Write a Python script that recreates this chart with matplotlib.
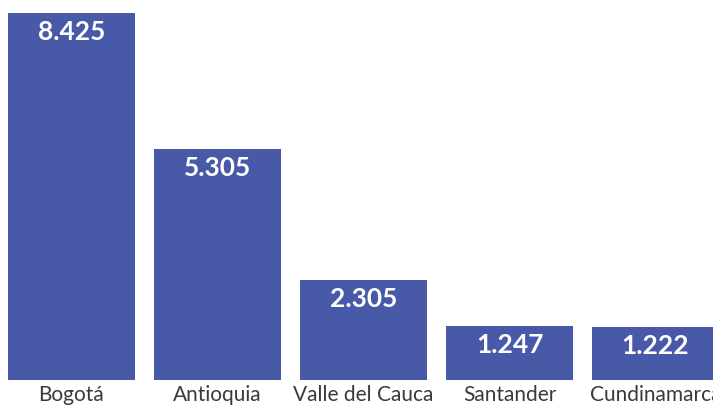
import matplotlib

matplotlib.use("Agg")
import matplotlib.pyplot as plt

# datos
departamentos = ["Bogotá", "Antioquia", "Valle del Cauca", "Santander", "Cundinamarca"]
valores = [8.425, 5.305, 2.305, 1.247, 1.222]
etiquetas = ["8.425", "5.305", "2.305", "1.247", "1.222"]

_BAR = "#4859A7"
_INK = "#3a3a3a"

fig = plt.figure(figsize=(7.13, 4.06), dpi=100)
ax = fig.add_axes([0, 25 / 406, 1, 381 / 406])
x = range(len(departamentos))
ax.bar(x, valores, width=0.87, color=_BAR)
ax.set_xlim(-71.5 / 146, (713 - 71.5) / 146)
ax.set_ylim(0, 381 / 43.56)

for i, (v, t) in enumerate(zip(valores, etiquetas)):
    ax.annotate(t, (i, v), xytext=(0, -13), textcoords="offset points",
                ha="center", va="center", color="white", fontsize=19,
                fontweight="bold", family="Lato")
    ax.annotate(departamentos[i], (i, 0), xytext=(0, -10), textcoords="offset points",
                ha="center", va="center", color=_INK, fontsize=15,
                family="Lato", annotation_clip=False)

for s in ax.spines.values():
    s.set_visible(False)
ax.set_xticks([])
ax.set_yticks([])

fig.savefig("out.png", dpi=100, facecolor="white")
